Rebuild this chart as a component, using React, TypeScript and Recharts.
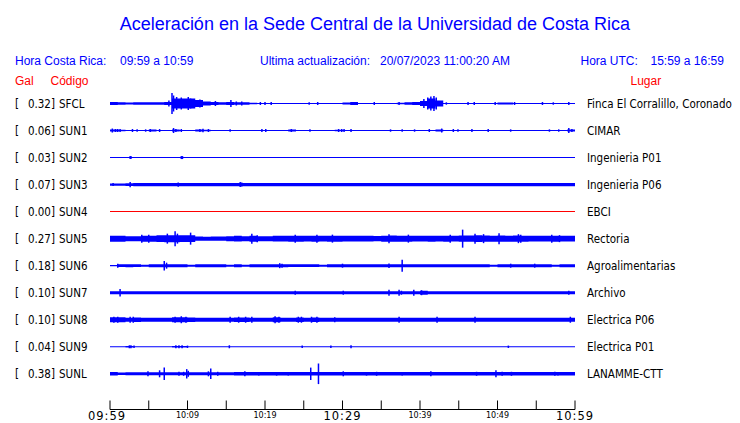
import React from 'react'
import { ComposedChart, Area, Scatter, ErrorBar, XAxis, YAxis } from 'recharts'

// station table
const CODES = ['SFCL', 'SUN1', 'SUN2', 'SUN3', 'SUN4', 'SUN5', 'SUN6', 'SUN7', 'SUN8', 'SUN9', 'SUNL']
const GAL_VALUES = ['0.32', '0.06', '0.03', '0.07', '0.00', '0.27', '0.18', '0.10', '0.10', '0.04', '0.38']
const PLACES = [
    'Finca El Corralillo, Coronado', 'CIMAR', 'Ingenieria P01', 'Ingenieria P06', 'EBCI', 'Rectoria',
    'Agroalimentarias', 'Archivo', 'Electrica P06', 'Electrica P01', 'LANAMME-CTT',
]
const TRACE_COLORS = ['#0000ff', '#0000ff', '#0000ff', '#0000ff', '#ff0000', '#0000ff', '#0000ff', '#0000ff', '#0000ff', '#0000ff', '#0000ff']

// time axis, minutes after 09:59
const TICK_MINUTES = [0, 5, 10, 15, 20, 25, 30, 35, 40, 45, 50, 55, 60]
const LABEL_MINUTES = [0, 10, 20, 30, 40, 50, 60]
const LABEL_TEXT = ['09:59', '10:09', '10:19', '10:29', '10:39', '10:49', '10:59']
const BIG_LABELS = [0, 30, 60]

// envelope half-amplitude per minute (one value per minute, 09:59 .. 10:58)
const SFCL_BAND = [1.5, 1.3, 1, 1.3, 1.3, 1.3, 1.3, 1.5, 5, 5, 5, 3.5, 2, 1.5, 1.3, 1.5, 1.3, 1.2, 0.8, 0.5,
    0.5, 0.5, 0.5, 0.5, 0.5, 0.5, 0.5, 0.5, 0.5, 0.5, 1, 1.5, 0.5, 0.5, 0.5, 0.5, 0.5, 0.8, 1.3, 1.5,
    2.5, 5, 3, 0.5, 0.5, 0.5, 0.5, 0.5, 0.5, 0.5, 1, 1, 0.5, 0.5, 0.5, 0.5, 0.5, 0.5, 0.5, 0.5]
const SUN1_BAND = [1, 0.8, 0.5, 0.5, 0.5, 1, 0.5, 0.5, 1, 0.5, 0.5, 1, 0.8, 0.5, 0.5, 0.5, 0.5, 0.5, 0.5, 0.5,
    0.5, 0.5, 0.5, 1, 0.5, 0.5, 0.5, 0.5, 0.5, 0.8, 0.5, 0.5, 0.5, 0.5, 0.5, 0.5, 0.5, 0.5, 0.5, 0.5,
    0.5, 0.5, 1, 0.5, 0.5, 0.5, 0.5, 0.5, 0.5, 0.5, 0.5, 0.5, 0.5, 0.5, 0.5, 0.5, 0.5, 0.5, 0.5, 1]
const SUN2_BAND = [0.5, 0.5, 0.5, 0.5, 0.5, 0.5, 0.5, 0.5, 0.5, 0.5, 0.5, 0.5, 0.5, 0.5, 0.5, 0.5, 0.5, 0.5, 0.5, 0.5,
    0.5, 0.5, 0.5, 0.5, 0.5, 0.5, 0.5, 0.5, 0.5, 0.5, 0.5, 0.5, 0.5, 0.5, 0.5, 0.5, 0.5, 0.5, 0.5, 0.5,
    0.5, 0.5, 0.5, 0.5, 0.5, 0.5, 0.5, 0.5, 0.5, 0.5, 0.5, 0.5, 0.5, 0.5, 0.5, 0.5, 0.5, 0.5, 0.5, 0.5]
const SUN3_BAND = [1.2, 1.2, 1.3, 1.6, 1.6, 1.6, 1.6, 1.6, 1.6, 1.6, 1.6, 1.6, 1.6, 1.6, 1.6, 1.6, 1.6, 1.6, 1.6, 1.6,
    1.6, 1.6, 1.6, 1.6, 1.6, 1.6, 1.6, 1.6, 1.6, 1.6, 1.6, 1.6, 1.6, 1.6, 1.6, 1.6, 1.6, 1.6, 1.6, 1.6,
    1.6, 1.6, 1.6, 1.6, 1.6, 1.6, 1.6, 1.6, 1.6, 1.6, 1.6, 1.6, 1.6, 1.6, 1.6, 1.6, 1.6, 1.6, 1.6, 1.6]
const SUN4_BAND = [0.5, 0.5, 0.5, 0.5, 0.5, 0.5, 0.5, 0.5, 0.5, 0.5, 0.5, 0.5, 0.5, 0.5, 0.5, 0.5, 0.5, 0.5, 0.5, 0.5,
    0.5, 0.5, 0.5, 0.5, 0.5, 0.5, 0.5, 0.5, 0.5, 0.5, 0.5, 0.5, 0.5, 0.5, 0.5, 0.5, 0.5, 0.5, 0.5, 0.5,
    0.5, 0.5, 0.5, 0.5, 0.5, 0.5, 0.5, 0.5, 0.5, 0.5, 0.5, 0.5, 0.5, 0.5, 0.5, 0.5, 0.5, 0.5, 0.5, 0.5]
const SUN5_BAND = [3, 3, 2.5, 2.5, 3, 3, 3.3, 3.5, 3.5, 3.3, 3.3, 2.2, 2, 2.2, 2.2, 2.5, 2.8, 2.5, 3, 2.5,
    2.5, 2.8, 2.8, 3, 3, 2.8, 3, 2.8, 3, 3, 2.8, 2.8, 2.8, 2.8, 2.6, 3, 3.2, 3, 3, 2.8,
    2.8, 3, 2.8, 3, 2.8, 3.2, 3.2, 3.3, 3.2, 3, 3.2, 3, 3.2, 3, 2.8, 2.8, 2.8, 3, 2.8, 2.8]
const SUN6_BAND = [0.6, 1.4, 1.5, 1.4, 1, 1.5, 1.5, 1.5, 1.5, 1.5, 1, 1.5, 1.5, 1.5, 1.5, 1, 1.5, 1, 1.5, 1.5,
    1.5, 1.5, 1.5, 1.4, 1.4, 1.4, 1.4, 1, 1.5, 1.5, 1.5, 1.5, 1.5, 1.5, 1.5, 1.5, 1.5, 1.5, 1.5, 1.5,
    1.5, 1.5, 1.5, 1.5, 1.5, 1.5, 1.5, 1.5, 1.5, 1, 1.5, 1.5, 1.5, 1.5, 1.5, 1.5, 1.5, 1, 1.5, 1.5]
const SUN7_BAND = [1.5, 1.5, 1.5, 1.5, 1.5, 1.5, 1.5, 1.5, 1.5, 1.5, 1.5, 1.5, 1.5, 1.5, 1.5, 1.5, 1.5, 1.5, 1.5, 1.5,
    1.5, 1.5, 1.5, 1.5, 1.5, 1.5, 1.5, 1.5, 1.5, 1.5, 1.5, 1.5, 1.5, 1.5, 1.5, 1.5, 1.5, 1.5, 1.5, 1.5,
    2, 1.5, 1.5, 1.5, 1.5, 1.5, 1.5, 1.5, 1.5, 1.5, 1.5, 1.5, 1.5, 1.5, 1.5, 1.5, 1.5, 1.5, 1.5, 1.5]
const SUN8_BAND = [2.5, 2.5, 1.9, 2.3, 1.9, 1.9, 1.9, 1.9, 2.5, 2.5, 2.2, 1.9, 1.9, 1.9, 1.9, 1.9, 2.2, 2.2, 1.9, 1.9,
    1.9, 2.5, 1.9, 1.9, 2.3, 1.9, 2.3, 1.9, 1.9, 1.9, 1.9, 1.9, 1.9, 1.9, 1.9, 1.9, 1.9, 1.9, 1.9, 1.9,
    1.9, 1.9, 1.9, 1.9, 1.9, 1.9, 1.9, 1.9, 1.9, 1.9, 1.9, 1.9, 1.9, 1.9, 1.9, 1.9, 1.9, 1.9, 1.9, 1.9]
const SUN9_BAND = [0.5, 0.5, 0.8, 0.5, 0.5, 0.5, 0.5, 0.5, 0.8, 0.8, 0.5, 0.5, 0.5, 0.5, 0.5, 0.5, 0.5, 0.5, 0.5, 0.5,
    0.5, 0.5, 0.5, 0.5, 0.5, 0.5, 0.5, 0.5, 0.5, 0.5, 0.5, 0.5, 0.5, 0.5, 0.5, 0.5, 0.5, 0.5, 0.5, 0.5,
    0.5, 0.5, 0.5, 0.5, 0.5, 0.5, 0.5, 0.5, 0.5, 0.5, 0.5, 0.5, 0.5, 0.5, 0.5, 0.5, 0.5, 0.5, 0.5, 0.5]
const SUNL_BAND = [1.7, 1.2, 1.5, 1.5, 1.5, 1.5, 1.5, 1.5, 1.5, 1.5, 1.5, 1.5, 1.5, 1.5, 1.5, 1.5, 1.8, 1.8, 1.8, 1.8,
    1.8, 1.8, 1.8, 1.8, 1.8, 1.8, 1.8, 1.8, 1.8, 1.8, 1.8, 1.8, 1.8, 1.8, 1.8, 1.8, 1.8, 1.8, 1.8, 1.8,
    1.8, 1.8, 1.8, 1.8, 1.8, 1.8, 1.8, 1.8, 1.8, 1.8, 1.8, 1.8, 1.8, 1.8, 1.8, 1.8, 1.8, 1.8, 1.8, 1.8]

// isolated peaks: [minute, half-amplitude]
const SFCL_SPIKES = [[7.6, 3], [8.0, 10.5], [8.2, 8], [8.6, 6.5], [9.2, 6], [10.1, 6.5], [10.4, 5], [11.6, 4], [13.6, 2.5],
    [15.6, 3.5], [16.3, 2], [17, 2], [19.4, 1.5], [20, 1.5], [20.8, 1.5], [25.7, 1.2], [26.8, 1.5], [34.1, 1.5],
    [37.3, 1.5], [40.5, 4.5], [41, 6], [41.4, 7], [41.8, 7.5], [42.1, 6], [43.4, 1.2], [46.2, 1.5], [47, 1.5],
    [49.7, 1.5], [52.2, 1.5], [55.8, 1.5], [57.2, 1.2], [59.2, 1.5]]
const SUN1_SPIKES = [[0.3, 2], [0.7, 1.5], [1, 1.5], [1.3, 1.5], [2.9, 1.5], [3.5, 1.2], [4.6, 1.2], [5.2, 1.5], [6.4, 1.5],
    [8.2, 2.5], [8.5, 1.5], [9.2, 1.5], [11.6, 1.5], [12, 1.8], [12.7, 1.5], [15.5, 1.2], [19.6, 1.5], [20.1, 1.5],
    [23.4, 1.5], [25.8, 1.2], [29.5, 1.5], [29.9, 1.5], [30.2, 1.5], [31.1, 1.5], [36.2, 1.2], [37.7, 1.2],
    [39.3, 1.2], [41.2, 1.5], [42.8, 2], [44.3, 1.5], [44.9, 1.2], [46.7, 1.5], [48.8, 1.5], [51.7, 1.2],
    [56.7, 1.2], [57.9, 1.2], [59.2, 2.5], [59.6, 1.5]]
const SUN2_SPIKES = [[2.6, 1.5], [2.7, 1.5], [9.2, 1.5], [9.35, 1.5]]
const SUN3_SPIKES = [[0.4, 1.5], [2.6, 2.7], [8.8, 2.2], [16.8, 2.5], [17, 2]]
const SUN4_SPIKES: number[][] = []
const SUN5_SPIKES = [[4.1, 4], [5, 4], [7.4, 5], [8.4, 7.5], [8.7, 5], [10.4, 6], [18.3, 5], [19, 3.5], [23.9, 4],
    [26.7, 4], [28.7, 4], [36, 4.5], [38.5, 4], [43.9, 4], [45.5, 9], [47.1, 5], [48.2, 4.5], [50.2, 5.5],
    [52.7, 4.5], [53, 4], [57, 4], [58, 3.5]]
const SUN6_SPIKES = [[1, 2], [7, 4.7], [7.3, 3], [21.9, 2.5], [22.2, 2], [30, 2], [36, 2.2], [37.7, 6], [51.7, 2], [54.8, 2]]
const SUN7_SPIKES = [[1.3, 3.7], [23.9, 2], [30.1, 2], [36, 3], [37.3, 3], [37.6, 2], [39.2, 3], [40.2, 2.5], [59.2, 2]]
const SUN8_SPIKES = [[0.5, 3], [1, 3], [2.6, 3], [3, 3], [8.4, 3], [9.2, 3.5], [9.8, 3], [15.5, 3], [16.6, 3], [17.5, 3],
    [18.3, 3], [21.3, 3.5], [21.8, 3], [24.3, 3], [24.7, 3], [26, 3], [26.7, 3], [29, 2.5], [37.3, 3], [42.2, 3],
    [47.1, 3], [59.4, 3]]
const SUN9_SPIKES = [[2.5, 1.5], [2.7, 1.5], [3.1, 1.2], [8.5, 1.5], [8.9, 1.5], [9.3, 1.5], [10, 1.2], [15.4, 1.5],
    [24.8, 1.2], [28.5, 1.2], [31.1, 1.5], [51.4, 1.2]]
const SUNL_SPIKES = [[4.9, 2.5], [6.4, 3.5], [7, 6.3], [8.9, 2], [9.5, 2], [9.9, 4.7], [10.1, 3], [12.7, 2.5], [13, 5.3],
    [13.9, 2], [17.4, 2.5], [19.2, 1.8], [21.5, 1.8], [23, 1.8], [25.9, 6.2], [26.9, 10.3], [30.1, 2.5], [33.1, 1.8],
    [34.4, 2], [37.7, 1.8], [41.4, 2.5], [47.3, 2], [49.8, 3.5], [50.6, 2], [51.8, 2], [57.4, 2], [57.8, 1.8]]

const BANDS = [SFCL_BAND, SUN1_BAND, SUN2_BAND, SUN3_BAND, SUN4_BAND, SUN5_BAND, SUN6_BAND, SUN7_BAND, SUN8_BAND, SUN9_BAND, SUNL_BAND]
const SPIKES = [SFCL_SPIKES, SUN1_SPIKES, SUN2_SPIKES, SUN3_SPIKES, SUN4_SPIKES, SUN5_SPIKES, SUN6_SPIKES, SUN7_SPIKES, SUN8_SPIKES, SUN9_SPIKES, SUNL_SPIKES]

// vertical offset between traces (same units as the amplitudes)
const TRACE_GAP = 27.03
const ROW_OFFSETS = CODES.map((_, i) => i * TRACE_GAP)

const BLUE = '#0000ff'
const RED = '#ff0000'
const LABEL_FONT = '"DejaVu Sans Condensed", "DejaVu Sans", sans-serif'
const HEAD_FONT = '"Liberation Sans", Arial, sans-serif'

const bandData = (band: number[], off: number) => {
    const pts = band.map((a, i) => ({ t: i, r: [off - a, off + a] }))
    const last = band[band.length - 1]
    pts.push({ t: band.length, r: [off - last, off + last] })
    return pts
}

const TimeTick = ({ x, y, payload }: any) => {
    const idx = LABEL_MINUTES.indexOf(payload.value)
    const big = BIG_LABELS.includes(payload.value)
    return (
        <g>
            <line x1={x} x2={x} y1={y - 9} y2={y} stroke="#000" strokeWidth={1} />
            {idx >= 0 && (
                <text
                    x={payload.value === 0 ? x - 3 : x}
                    y={big ? y + 10.5 : y + 8}
                    textAnchor="middle"
                    fontFamily='"DejaVu Sans", sans-serif'
                    fontSize={big ? 11.5 : 8}
                    letterSpacing={big ? 1 : 0}
                    fill="#000"
                >
                    {LABEL_TEXT[idx]}
                </text>
            )}
        </g>
    )
}

const CodeTick = ({ x, y, index }: any) => (
    <g fontFamily={LABEL_FONT} fontSize={11.5} fill="#000">
        <text x={x - 95} y={y} dominantBaseline="central">[</text>
        <text x={x - 55} y={y} dominantBaseline="central" textAnchor="end">{GAL_VALUES[index]}]</text>
        <text x={x - 51} y={y} dominantBaseline="central">{CODES[index]}</text>
    </g>
)

const PlaceTick = ({ x, y, index }: any) => (
    <text x={x + 12} y={y} dominantBaseline="central" fontFamily={LABEL_FONT} fontSize={11.5} fill="#000">
        {PLACES[index]}
    </text>
)

export default function App() {
    const domain = [-33.5, 306]
    return (
        <div style={{ position: 'absolute', left: 0, top: 0, width: 740, height: 423, background: '#fff' }}>
            <ComposedChart width={740} height={423} margin={{ top: 70, right: 0, left: 0, bottom: 0 }}>
                <XAxis
                    type="number"
                    dataKey="t"
                    domain={[0, 60]}
                    ticks={TICK_MINUTES}
                    interval={0}
                    allowDataOverflow
                    height={13.5}
                    tickSize={0}
                    tickMargin={0}
                    tickLine={false}
                    axisLine={{ stroke: '#000', strokeWidth: 1 }}
                    tick={<TimeTick />}
                />
                <YAxis
                    yAxisId="rows"
                    type="number"
                    domain={domain}
                    reversed
                    allowDataOverflow
                    ticks={ROW_OFFSETS}
                    interval={0}
                    width={110}
                    tickSize={0}
                    tickMargin={0}
                    axisLine={false}
                    tickLine={false}
                    tick={<CodeTick />}
                />
                <YAxis
                    yAxisId="places"
                    orientation="right"
                    type="number"
                    domain={domain}
                    reversed
                    allowDataOverflow
                    ticks={ROW_OFFSETS}
                    interval={0}
                    width={165}
                    tickSize={0}
                    tickMargin={0}
                    axisLine={false}
                    tickLine={false}
                    tick={<PlaceTick />}
                />
                {BANDS.map((band, i) => (
                    <Area
                        key={`band-${CODES[i]}`}
                        yAxisId="rows"
                        data={bandData(band, ROW_OFFSETS[i])}
                        dataKey="r"
                        type="stepAfter"
                        stroke="none"
                        fill={TRACE_COLORS[i]}
                        fillOpacity={1}
                        dot={false}
                        activeDot={false}
                        isAnimationActive={false}
                    />
                ))}
                {SPIKES.map((list, i) => (
                    <Scatter
                        key={`spk-${CODES[i]}`}
                        yAxisId="rows"
                        data={list.map(([t, a]) => ({ t, y: ROW_OFFSETS[i], e: a }))}
                        dataKey="y"
                        shape={() => <g />}
                        isAnimationActive={false}
                    >
                        <ErrorBar dataKey="e" direction="y" width={0} stroke={TRACE_COLORS[i]} strokeWidth={1.5} isAnimationActive={false} />
                    </Scatter>
                ))}
            </ComposedChart>
            <svg width={740} height={90} style={{ position: 'absolute', left: 0, top: 0, pointerEvents: 'none' }}>
                <g fontFamily={HEAD_FONT}>
                    <text x={375} y={29.5} textAnchor="middle" fontSize={18} fill={BLUE}>
                        Aceleración en la Sede Central de la Universidad de Costa Rica
                    </text>
                    <g fontSize={12} fill={BLUE}>
                        <text x={15} y={65}>Hora Costa Rica:</text>
                        <text x={120} y={65}>09:59 a 10:59</text>
                        <text x={260} y={65}>Ultima actualización:</text>
                        <text x={380} y={65}>20/07/2023 11:00:20 AM</text>
                        <text x={580.5} y={65}>Hora UTC:</text>
                        <text x={650.5} y={65}>15:59 a 16:59</text>
                    </g>
                    <g fontSize={12} fill={RED}>
                        <text x={15} y={85}>Gal</text>
                        <text x={50.5} y={85}>Código</text>
                        <text x={630.5} y={85}>Lugar</text>
                    </g>
                </g>
            </svg>
        </div>
    )
}
